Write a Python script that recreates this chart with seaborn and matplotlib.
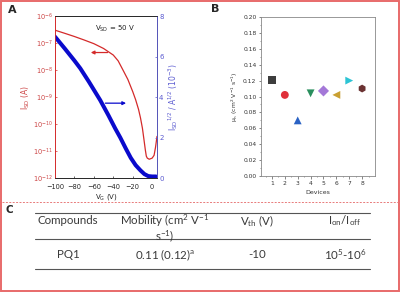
import matplotlib
matplotlib.use("Agg")
import matplotlib.pyplot as plt
import seaborn as sns
from matplotlib.patches import Rectangle

# ---- panel A: transfer curve ----
vg_red = [-100, -90, -80, -70, -60, -50, -40, -35, -30, -25, -20, -17, -14, -12,
          -10, -8.5, -7, -6, -5, -3, 0, 2, 3.5, 5]
isd_red = [3.0e-7, 2.3e-7, 1.75e-7, 1.3e-7, 9.5e-8, 6.3e-8, 3.6e-8, 2.2e-8, 1.0e-8,
           4.5e-9, 1.6e-9, 8e-10, 3.5e-10, 1.7e-10, 7e-11, 2.8e-11, 1.1e-11,
           6.5e-12, 5.5e-12, 5e-12, 5.5e-12, 7e-12, 1.4e-11, 3.5e-11]
vg_blue = [-100, -90, -80, -74, -65, -53.5, -45, -38, -32.8, -27, -22, -17, -12,
           -8, -4, 0, 4]
sqrt_isd = [6.98, 6.4, 5.8, 5.42, 4.75, 3.85, 3.1, 2.45, 2.0, 1.45, 1.0, 0.64,
            0.38, 0.2, 0.1, 0.08, 0.08]

# ---- panel B: device mobilities ----
devices = [1, 2, 3, 4, 5, 6, 7, 8]
mobility = [0.121, 0.102, 0.070, 0.104, 0.107, 0.102, 0.120, 0.110]
dev_colors = ['#3d3d3d', '#e0303a', '#2a62c4', '#2a8f5e', '#a478d8', '#c9a032',
              '#2cc4d4', '#6b3232']
dev_markers = ['s', 'o', '^', 'v', 'D', '<', '>', 'h']

# ---- panel C: table ----
headers = ['Compounds', 'Mobility (cm$^2$ V$^{-1}$\ns$^{-1}$)', 'V$_{th}$ (V)',
           'I$_{on}$/I$_{off}$']
row = ['PQ1', '0.11 (0.12)$^a$', '-10', '10$^5$-10$^6$']

sns.set_theme(style="ticks")
plt.rcParams['font.family'] = ['DejaVu Sans']
plt.rcParams['mathtext.default'] = 'regular'

fig = plt.figure(figsize=(4, 2.92), dpi=100)

red = '#d42a2a'
blue = '#0a0acc'
lblue = '#5a5ad0'

# ---------- A ----------
axA = fig.add_axes([0.1375, 0.39, 0.255, 0.555])
sns.lineplot(x=vg_red, y=isd_red, ax=axA, color=red, lw=0.9, sort=False)
axA.set_yscale('log')
axA.set_ylim(1e-12, 1e-6)
axA.set_xlim(-100, 5)
axA.set_xticks([-100, -80, -60, -40, -20, 0])
axA.minorticks_off()
axA.tick_params(axis='both', labelsize=4.8, length=1.5, width=0.5, pad=1.5, direction='in')
axA.tick_params(axis='x', pad=4)
axA.tick_params(axis='y', colors=red, labelcolor='#cc4444')
axA.set_xlabel('V$_G$ (V)', fontsize=5, labelpad=1.5)
axA.set_ylabel('I$_{SD}$ (A)', fontsize=5.5, color='#cc4444', labelpad=1)
for s in axA.spines.values():
    s.set_linewidth(0.6)
axA.spines['left'].set_color(red)

axA2 = axA.twinx()
sns.lineplot(x=vg_blue, y=sqrt_isd, ax=axA2, color=blue, lw=2.9, sort=False)
axA2.set_ylim(0, 8)
axA2.set_yticks([0, 2, 4, 6, 8])
axA2.tick_params(axis='y', labelsize=5, length=1.5, width=0.5, pad=1.5,
                 colors=lblue, direction='in')
axA2.set_ylabel('I$_{SD}$$^{1/2}$ / A$^{1/2}$ (10$^{-3}$)', fontsize=5.5,
                color=lblue, labelpad=2)
for s in axA2.spines.values():
    s.set_linewidth(0.6)
axA2.spines['right'].set_color(lblue)
axA2.spines['left'].set_color(red)

axA2.annotate('', xy=(-66, 6.2), xytext=(-43, 6.2),
              arrowprops=dict(arrowstyle='-|>', color=red, lw=0.9,
                              mutation_scale=5))
axA2.annotate('', xy=(-24, 3.7), xytext=(-51, 3.7),
              arrowprops=dict(arrowstyle='-|>', color=blue, lw=0.9,
                              mutation_scale=5))
axA2.text(-38, 7.35, 'V$_{SD}$ = 50 V', fontsize=5, ha='center', va='center',
          color='#222222')

# ---------- B ----------
axB = fig.add_axes([0.6525, 0.397, 0.285, 0.545])
for d, m, c, mk in zip(devices, mobility, dev_colors, dev_markers):
    sns.scatterplot(x=[d], y=[m], ax=axB, color=c, marker=mk, s=32,
                    edgecolor='none', linewidth=0)
axB.set_xlim(0.15, 9)
axB.set_ylim(0, 0.20)
axB.set_xticks(devices)
axB.set_yticks([i / 100 for i in range(0, 21, 2)])
axB.set_yticklabels([f'{i / 100:.2f}' for i in range(0, 21, 2)])
axB.set_xticks([d + 0.5 for d in range(0, 9)], minor=True)
axB.set_yticks([i / 100 + 0.01 for i in range(0, 20, 2)], minor=True)
axB.tick_params(axis='both', labelsize=4.3, length=1.8, width=0.5, pad=1.5,
                colors='#555555', labelcolor='#333333')
axB.tick_params(which='minor', length=1, width=0.4, colors='#555555')
axB.set_xlabel('Devices', fontsize=4.5, color='#333333', labelpad=3)
axB.set_ylabel('μ$_h$ (cm$^2$ V$^{-1}$ s$^{-1}$)', fontsize=4.3,
               color='#333333', labelpad=2)
for s in axB.spines.values():
    s.set_linewidth(0.6)
    s.set_color('#888888')

# ---------- C (table) ----------
axC = fig.add_axes([0, 0, 1, 1])
axC.set_xlim(0, 400)
axC.set_ylim(292, 0)
axC.axis('off')

col_x = [68, 165, 257, 345]
for x, h in zip(col_x, headers):
    axC.text(x, 221 if '\n' not in h else 228, h, fontsize=8.3, ha='center',
             va='center', color='#3a3a3a', multialignment='center',
             linespacing=0.95, family='Lato')
for x, v in zip(col_x, row):
    axC.text(x, 255, v, fontsize=8.3, ha='center', va='center', color='#3a3a3a',
             family='Lato')
for y in [213, 239, 269]:
    axC.plot([35, 370], [y, y], color='#555555', lw=0.8)

# separator and outer frame
axC.plot([2, 398], [202, 202], color='#e87a7a', lw=0.7, ls=(0, (2, 1.5)))
axC.add_patch(Rectangle((1, 1), 398, 290, fill=False, edgecolor='#e86a6a', lw=1.4))

axC.text(8, 10, 'A', fontsize=8, fontweight='bold', ha='left', va='center')
axC.text(211, 9, 'B', fontsize=8, fontweight='bold', ha='left', va='center')
axC.text(6, 210, 'C', fontsize=7.5, fontweight='bold', ha='left', va='center')

fig.savefig('out.png', dpi=100)
